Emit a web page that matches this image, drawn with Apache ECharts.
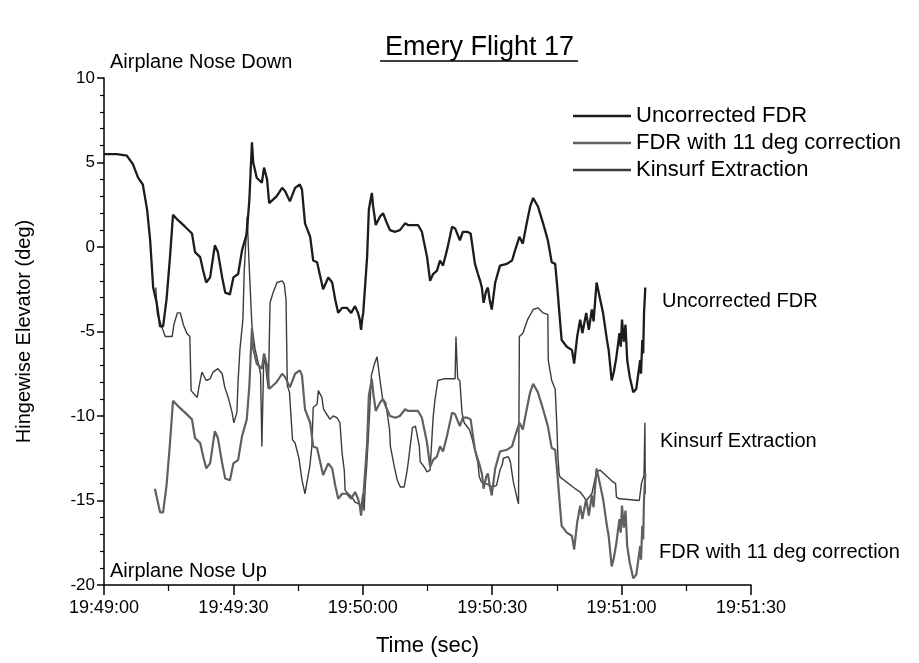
<!DOCTYPE html>
<html>
<head>
<meta charset="utf-8">
<script src="https://cdn.jsdelivr.net/npm/echarts@6/dist/echarts.min.js"></script>
<style>
html,body{margin:0;padding:0;background:#fff;}
#chart{width:919px;height:663px;}
</style>
</head>
<body>
<div id="chart"></div>
<script>
// ---- data (seconds after 19:49:00, elevator degrees) ----
var xTickLabels = ['19:49:00','19:49:30','19:50:00','19:50:30','19:51:00','19:51:30'];
var seriesNames = ['Uncorrected FDR','FDR with 11 deg correction','Kinsurf Extraction'];

var uncTime = [0,1,3,5.3,6.7,7.9,9,10,10.7,11.4,12.2,13,13.7,14.5,15.3,16,17.1,18.8,20.4,21.1,22.3,23,23.7,24.6,25.7,26.4,27.4,28.1,29.2,30,31.1,32,33.1,33.7,34.3,34.6,35.4,36.6,37.1,37.8,38.3,40,41.3,42,43.1,44.3,45.4,45.9,46.6,47.8,48.5,49.4,50.8,52,52.9,53.6,54.3,55.2,56.3,57.3,58.2,58.9,59.3,59.6,59.9,60.1,61,61.4,62.1,62.4,63,64,64.7,65.6,66.3,67.5,68.6,69.8,70.5,72.8,73.7,74.9,75.6,76.3,77.2,77.9,78.6,79.5,80.7,81.4,82.5,83.2,84.2,85,86,86.7,87.2,87.6,88,88.6,89,89.4,89.9,90.7,91.8,93.4,94.6,95.3,96.3,97.1,98,98.8,99.5,100.6,101.8,102.9,103.8,104.6,105.1,105.7,106.1,107.3,108.5,109,109.7,110.4,110.9,111.8,112.4,113.1,113.5,114.2,114.6,115.7,116.6,117,117.7,118.2,118.8,119.5,119.8,120.1,120.5,120.9,121.3,121.9,122.7,123.4,124.3,124.5,124.8,125.0,125.2,125.5];
var uncVal  = [5.5,5.5,5.5,5.4,4.9,4.1,3.7,2.2,0.4,-2.4,-3.3,-4.7,-4.7,-3.1,-0.6,1.9,1.6,1.2,0.8,-0.3,-0.6,-1.4,-2.1,-1.8,0.1,-0.3,-1.8,-2.7,-2.8,-1.8,-1.6,-0.2,0.8,2.8,6.2,5.0,4.1,3.8,4.7,4.0,2.6,3.0,3.5,3.3,2.7,3.5,3.7,3.4,1.4,0.6,-0.8,-0.9,-2.5,-1.8,-2.1,-3.1,-3.9,-3.6,-3.6,-3.9,-3.5,-3.9,-4.3,-4.9,-4.2,-3.9,-0.6,2.2,3.2,2.4,1.3,1.8,2.0,1.4,1.0,0.9,1.0,1.4,1.3,1.3,0.9,-0.6,-2.0,-1.6,-1.4,-0.8,-1.1,-0.2,1.2,1.1,0.4,0.9,0.9,0.8,-1.0,-1.6,-2.0,-2.4,-3.3,-2.6,-2.4,-3.1,-3.7,-2.1,-1.1,-1.0,-0.8,-0.2,0.6,0.2,1.4,2.4,2.9,2.4,1.4,0.4,-0.9,-1.0,-2.4,-4.3,-5.5,-5.9,-6.1,-6.9,-5.3,-4.3,-5.1,-3.9,-4.9,-3.7,-4.4,-2.1,-2.2,-3.9,-5.5,-6.1,-7.9,-7.4,-6.5,-5.1,-5.9,-4.3,-5.6,-4.6,-6.7,-7.7,-8.6,-8.4,-6.7,-7.5,-5.5,-6.3,-3.9,-2.4];

var corTime = [11.8,12.2,13,13.7,14.5,15.3,16,17.1,18.8,20.4,21.1,22.3,23,23.7,24.6,25.7,26.4,27.4,28.1,29.2,30,31.1,32,33.1,33.7,34.3,34.6,35.4,36.6,37.1,37.8,38.3,40,41.3,42,43.1,44.3,45.4,45.9,46.6,47.8,48.5,49.4,50.8,52,52.9,53.6,54.3,55.2,56.3,57.3,58.2,58.9,59.3,59.6,59.9,60.1,61,61.4,62.1,62.4,63,64,64.7,65.6,66.3,67.5,68.6,69.8,70.5,72.8,73.7,74.9,75.6,76.3,77.2,77.9,78.6,79.5,80.7,81.4,82.5,83.2,84.2,85,86,86.7,87.2,87.6,88,88.6,89,89.4,89.9,90.7,91.8,93.4,94.6,95.3,96.3,97.1,98,98.8,99.5,100.6,101.8,102.9,103.8,104.6,105.1,105.7,106.1,107.3,108.5,109,109.7,110.4,110.9,111.8,112.4,113.1,113.5,114.2,114.6,115.7,116.6,117,117.7,118.2,118.8,119.5,119.8,120.1,120.5,120.9,121.3,121.9,122.7,123.4,124.3,124.5,124.8,125.0,125.2,125.5];
var corVal  = [-14.3,-14.3,-15.7,-15.7,-14.1,-11.6,-9.1,-9.4,-9.8,-10.2,-11.3,-11.6,-12.4,-13.1,-12.8,-10.9,-11.3,-12.8,-13.7,-13.8,-12.8,-12.6,-11.2,-10.2,-8.2,-4.8,-6.0,-6.9,-7.2,-6.3,-7.0,-8.4,-8.0,-7.5,-7.7,-8.3,-7.5,-7.3,-7.6,-9.6,-10.4,-11.8,-11.9,-13.5,-12.8,-13.1,-14.1,-14.9,-14.6,-14.6,-14.9,-14.5,-14.9,-15.3,-15.9,-15.2,-14.9,-11.6,-8.8,-7.8,-8.6,-9.7,-9.2,-9.0,-9.6,-10.0,-10.1,-10.0,-9.6,-9.7,-9.7,-10.1,-11.6,-13.0,-12.6,-12.4,-11.8,-12.1,-11.2,-9.8,-9.9,-10.6,-10.1,-10.1,-10.2,-12.0,-12.6,-13.0,-13.4,-14.3,-13.6,-13.4,-14.1,-14.7,-13.1,-12.1,-12.0,-11.8,-11.2,-10.4,-10.8,-9.6,-8.6,-8.1,-8.6,-9.6,-10.6,-11.9,-12.0,-13.4,-15.3,-16.5,-16.9,-17.1,-17.9,-16.3,-15.3,-16.1,-14.9,-15.9,-14.7,-15.4,-13.1,-13.2,-14.9,-16.5,-17.1,-18.9,-18.4,-17.5,-16.1,-16.9,-15.3,-16.6,-15.6,-17.7,-18.7,-19.6,-19.4,-17.7,-18.5,-16.5,-17.3,-14.9,-13.4];

var kinTime = [12.0,12.4,13.5,14.2,15.8,16.2,17.0,17.7,18.4,19.2,19.9,20.2,20.6,21.6,22.0,22.7,23.7,24.6,25.3,26.4,27.4,28.0,28.8,29.7,30.1,30.8,31.1,31.5,32.2,32.5,33.2,33.6,34.3,35.0,35.7,36.3,36.6,37.0,37.3,37.8,38.1,38.5,39.2,40.1,41.3,41.8,42.2,42.5,43.0,43.7,44.3,45.2,45.9,46.6,47.0,47.7,48.2,48.5,49.4,49.7,50.5,50.9,51.9,52.4,53.1,54.0,54.7,55.2,55.7,55.9,56.6,57.5,58.2,59.1,59.6,60.0,60.3,60.6,60.9,61.3,62.0,62.6,63.3,63.7,64.0,64.6,65.3,66.2,66.4,67.3,68.0,68.7,69.6,70.3,70.8,71.5,72.2,72.6,73.1,73.3,74.2,74.9,75.6,76.3,76.7,77.4,78.8,81.4,81.6,82.0,82.5,83.0,83.5,84.7,85.2,85.6,86.7,87.0,87.5,88.6,90.0,91.0,91.8,92.3,92.6,93.7,94.2,94.9,95.8,96.1,96.3,97.1,98.2,99.5,100.6,101.8,102.9,103.0,103.8,104.6,105.0,105.2,105.5,105.7,108.7,110.4,111.3,111.8,113.1,114.2,115.0,118.0,118.6,118.8,119.5,124.1,124.6,125.2,125.4,125.5];
var kinVal  = [-2.4,-4.0,-4.8,-5.3,-5.3,-4.6,-3.9,-3.9,-4.6,-5.1,-5.3,-8.5,-8.5,-8.9,-8.3,-7.4,-7.9,-7.8,-7.4,-7.2,-7.5,-8.3,-8.9,-9.8,-10.4,-9.8,-7.9,-6.1,-4.3,-1.5,1.8,-0.8,-4.7,-6.0,-6.8,-7.5,-11.8,-7.0,-6.5,-7.8,-8.4,-3.3,-2.7,-2.1,-2.0,-2.2,-3.1,-8.2,-8.6,-11.4,-11.6,-12.5,-13.8,-14.6,-14.0,-13.0,-11.8,-9.5,-9.3,-8.5,-8.9,-9.6,-10.0,-10.2,-10.0,-10.1,-10.4,-12.2,-13.2,-14.4,-14.6,-14.8,-15.1,-15.2,-15.4,-14.6,-15.6,-14.0,-13.0,-11.2,-7.6,-7.0,-6.5,-6.6,-7.9,-9.0,-9.2,-10.8,-11.8,-13.0,-13.8,-14.2,-14.2,-13.2,-12.2,-10.7,-10.6,-10.7,-11.8,-12.7,-13.0,-13.3,-13.2,-10.1,-9.1,-7.9,-7.8,-7.8,-5.3,-7.8,-7.9,-9.8,-10.4,-10.8,-11.2,-11.6,-12.8,-13.6,-13.9,-14.0,-14.2,-14.1,-13.2,-12.9,-12.5,-12.4,-12.7,-13.9,-14.9,-15.2,-5.3,-5.1,-4.3,-3.7,-3.6,-3.9,-4.0,-6.7,-7.9,-8.4,-10.6,-12.2,-13.4,-13.6,-14.2,-14.5,-14.8,-15.0,-14.6,-13.3,-13.2,-13.9,-14.0,-14.8,-14.9,-15.0,-14.0,-13.5,-10.4,-14.6];

function pairs(t, v) { return t.map(function (x, i) { return [x, v[i]]; }); }

var FONT = 'Liberation Sans, Arial, sans-serif';
var lineColors = ['#1c1c1c', '#606060', '#3c3c3c'];
var lineWidths = [2.3, 2.2, 1.4];
var chart = echarts.init(document.getElementById('chart'), null, {renderer: 'canvas'});

chart.setOption({
  backgroundColor: '#ffffff',
  animation: false,
  title: {
    text: 'Emery Flight 17',
    left: 380, top: 29,
    textStyle: {fontFamily: FONT, fontSize: 27, fontWeight: 'normal', color: '#000'}
  },
  legend: {
    orient: 'vertical',
    left: 568, top: 100,
    itemWidth: 58, itemHeight: 2.5, itemGap: 5,
    icon: 'rect',
    data: seriesNames.map(function (n, i) {
      return {name: n, icon: 'rect', itemStyle: {color: lineColors[i]}};
    }),
    textStyle: {fontFamily: FONT, fontSize: 22, color: '#000', padding: [0, 0, 0, 0]}
  },
  grid: {left: 104, top: 78, right: 168, bottom: 78},
  xAxis: {
    type: 'value', min: 0, max: 150, interval: 30,
    name: 'Time (sec)', nameLocation: 'middle', nameGap: 50,
    nameTextStyle: {fontFamily: FONT, fontSize: 22, color: '#000'},
    axisLine: {show: true, onZero: false, lineStyle: {color: '#000', width: 1.5}},
    axisTick: {show: true, length: 10, lineStyle: {color: '#000', width: 1.5}},
    minorTick: {show: true, splitNumber: 2, length: 6, lineStyle: {color: '#000', width: 1.2}},
    axisLabel: {
      fontFamily: FONT, fontSize: 18, color: '#000', margin: 14,
      formatter: function (v) { return xTickLabels[Math.round(v / 30)]; }
    },
    splitLine: {show: false}
  },
  yAxis: {
    type: 'value', min: -20, max: 10, interval: 5,
    name: 'Hingewise Elevator (deg)', nameLocation: 'middle', nameGap: 70,
    nameTextStyle: {fontFamily: FONT, fontSize: 20, color: '#000'},
    axisLine: {show: true, onZero: false, lineStyle: {color: '#000', width: 1.5}},
    axisTick: {show: true, length: 7, lineStyle: {color: '#000', width: 1.5}},
    minorTick: {show: true, splitNumber: 5, length: 4, lineStyle: {color: '#000', width: 1.2}},
    axisLabel: {fontFamily: FONT, fontSize: 17, color: '#000', margin: 9},
    splitLine: {show: false}
  },
  graphic: [
    {type: 'line', shape: {x1: 380, y1: 61, x2: 578, y2: 61}, style: {stroke: '#000', lineWidth: 1.5}},
    {type: 'text', left: 110, top: 52, style: {text: 'Airplane Nose Down', font: '20px ' + FONT, fill: '#000'}},
    {type: 'text', left: 110, top: 561, style: {text: 'Airplane Nose Up', font: '20px ' + FONT, fill: '#000'}},
    {type: 'text', left: 662, top: 291, style: {text: 'Uncorrected FDR', font: '20px ' + FONT, fill: '#000'}},
    {type: 'text', left: 660, top: 431, style: {text: 'Kinsurf Extraction', font: '20px ' + FONT, fill: '#000'}},
    {type: 'text', left: 659, top: 542, style: {text: 'FDR with 11 deg correction', font: '20px ' + FONT, fill: '#000'}}
  ],
  series: [0, 1, 2].map(function (i) {
    var t = [uncTime, corTime, kinTime][i];
    var v = [uncVal, corVal, kinVal][i];
    return {
      name: seriesNames[i], type: 'line', data: pairs(t, v),
      symbol: 'none', z: 4 - i,
      lineStyle: {color: lineColors[i], width: lineWidths[i]},
      itemStyle: {color: lineColors[i]}
    };
  })
});
</script>
</body>
</html>
